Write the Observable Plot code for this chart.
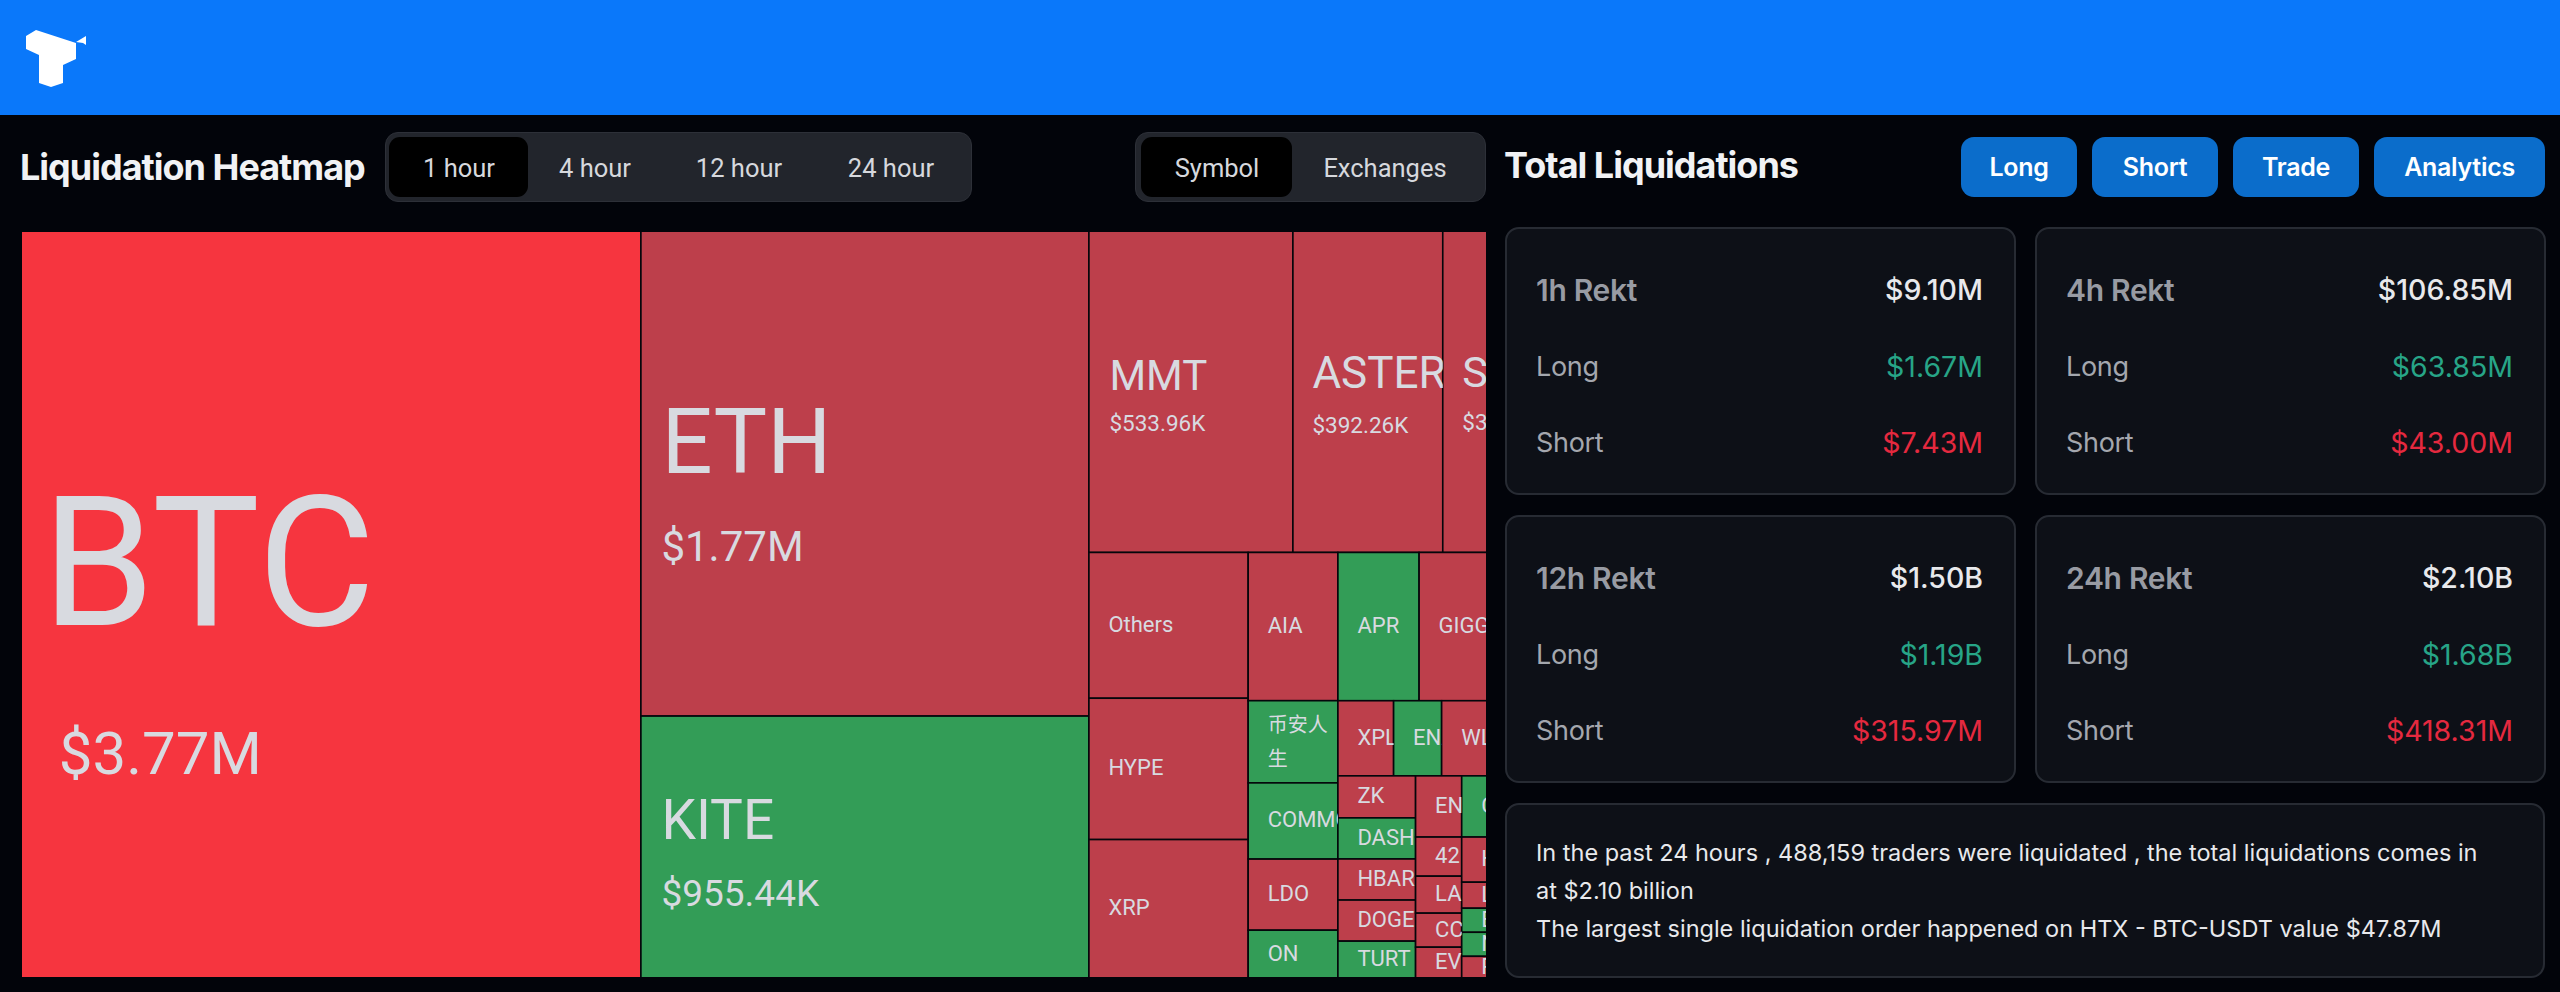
<!DOCTYPE html>
<html>
<head>
<meta charset="utf-8">
<script src="https://cdn.jsdelivr.net/npm/d3@7"></script>
<script src="https://cdn.jsdelivr.net/npm/@observablehq/plot@0.6"></script>
<style>
  html, body { margin: 0; padding: 0; width: 2560px; height: 992px; overflow: hidden; background: #02040a; }
  body { font-family: "Inter", "Noto Sans", sans-serif; color: #e8e9ec; position: relative; }
  .abs { position: absolute; }
  #top { left: 0; top: 0; width: 2560px; height: 115px; background: #0a78fa; }
  #logo { left: 0; top: 0; }
  .title { font-weight: 700; font-size: 36px; color: #f1f2f5; letter-spacing: -1px; white-space: nowrap; line-height: 40px; }
  .tabs { background: #22252c; border: 1px solid #2d3038; border-radius: 13px; box-sizing: border-box; top: 132px; height: 70px; }
  .active { background: #000; border-radius: 11px; top: 137px; height: 60px; }
  .tab { font-family: "Roboto", sans-serif; font-size: 25.5px; color: #d6d8dd; top: 148px; line-height: 40px; transform: translateX(-50%); white-space: nowrap; }
  .btn { background: #0b6dcb; border-radius: 13px; top: 137px; height: 60px; color: #fff; font-weight: 600; font-size: 25px; line-height: 60px; text-align: center; letter-spacing: -0.3px; }
  .card { background: #0d1017; border: 2px solid #272b33; border-radius: 14px; box-sizing: border-box; }
  .lab, .val { font-size: 27px; line-height: 40px; white-space: nowrap; letter-spacing: -0.3px; }
  .lab { color: #a4a7ae; }
  .lab.head { font-weight: 600; font-size: 30px; color: #989ba3; }
  .val { color: #e8e9ec; font-weight: 500; font-size: 28.5px; letter-spacing: 0; transform: translateX(-100%); }
  .val.long { color: #27a587; font-weight: 400; }
  .val.short { color: #e5293f; font-weight: 400; }
  .note { left: 1536px; font-size: 23.5px; color: #e8e9ec; line-height: 38px; white-space: nowrap; }
</style>
</head>
<body>
<script>
// ---------- data ($K; clipped cells are estimates) ----------
const symbols = ["BTC","ETH","KITE","MMT","ASTER","S",
  "Others","HYPE","XRP",
  "AIA","币安人\n生","COMMON","LDO","ON",
  "APR","GIGGLE","XPL","ENA","WLFI",
  "ZK","DASH","HBAR","DOGE","TURT",
  "ENSO","42","LA","CC","EV",
  "C","H","L","B","N","P"];
const liquidated = [3770,1770,955.44,533.96,392.26,310,
  189.2,183.4,179.4,
  108.4,60.1,55.7,52.0,34.8,
  98.1,171.7,34.1,29.4,73.2,
  26.6,26.0,26.0,26.0,23.2,
  23.0,14.7,13.9,12.8,11.5,
  49.6,36.6,21.1,19.5,19.5,17.4];
const sides = ["peak","short","long","short","short","short",
  "short","short","short",
  "short","long","long","short","long",
  "long","short","short","long","short",
  "short","long","short","short","long",
  "short","short","short","short","short",
  "long","short","short","long","long","short"];
// how the treemap nests the symbols (alternating columns / rows)
const nesting = ["BTC", ["ETH","KITE"], [
  ["MMT","ASTER","S"],
  [ ["Others","HYPE","XRP"],
    ["AIA","币安人\n生","COMMON","LDO","ON"],
    [ ["APR","GIGGLE"],
      ["XPL","ENA","WLFI"],
      [ ["ZK","DASH","HBAR","DOGE","TURT"],
        ["ENSO","42","LA","CC","EV"],
        ["C","H","L","B","N","P"] ] ] ] ]];
const periods = ["1 hour","4 hour","12 hour","24 hour"];
const views = ["Symbol","Exchanges"];
const actions = ["Long","Short","Trade","Analytics"];
const rektLabels = ["1h Rekt","4h Rekt","12h Rekt","24h Rekt"];
const rektTotals = ["$9.10M","$106.85M","$1.50B","$2.10B"];
const rektLongs  = ["$1.67M","$63.85M","$1.19B","$1.68B"];
const rektShorts = ["$7.43M","$43.00M","$315.97M","$418.31M"];
const noteLines = ["In the past 24 hours , 488,159 traders were liquidated , the total liquidations comes in",
  "at $2.10 billion",
  "The largest single liquidation order happened on HTX - BTC-USDT value $47.87M"];

// ---------- page chrome ----------
function add(cls, css, text) {
  const e = document.createElement("div");
  e.className = "abs " + cls;
  Object.assign(e.style, css);
  if (text != null) e.textContent = text;
  document.body.append(e);
  return e;
}
add("", {}).id = "top";
document.body.insertAdjacentHTML("beforeend",
  `<svg id="logo" class="abs" width="100" height="100"><path fill="#fff" d="M36 30 26 36V49L39 55V83L51 87 63 83V65L76 59V43Z"/><path fill="#fff" d="M86 36 76 42 83 43 86 45Z"/></svg>`);
add("title", {left:"20px", top:"147px"}, "Liquidation Heatmap");
add("tabs", {left:"385px", width:"587px"});
add("active", {left:"389px", width:"139px"});
[459,595,739,891].forEach((x,i) => add("tab", {left:x+"px"}, periods[i]));
add("tabs", {left:"1135px", width:"351px"});
add("active", {left:"1141px", width:"151px"});
[1217,1385].forEach((x,i) => add("tab", {left:x+"px"}, views[i]));

add("title", {left:"1504px", top:"145px"}, "Total Liquidations");
[[1961,116],[2092,126],[2233,126],[2374,171]].forEach(([x,w],i) =>
  add("btn", {left:x+"px", width:w+"px"}, actions[i]));

const cardX = [1505,2035,1505,2035], cardY = [227,227,515,515];
rektLabels.forEach((lab,i) => {
  const x = cardX[i], y = cardY[i];
  add("card", {left:x+"px", top:y+"px", width:"511px", height:"268px"});
  const rows = [[lab,"head",rektTotals[i],""],["Long","",rektLongs[i],"long"],["Short","",rektShorts[i],"short"]];
  [63,140,216].forEach((dy,r) => {
    add("lab " + rows[r][1], {left:(x+31)+"px", top:(y+dy-20)+"px"}, rows[r][0]);
    add("val " + rows[r][3], {left:(x+478)+"px", top:(y+dy-20)+"px"}, rows[r][2]);
  });
});
add("card", {left:"1505px", top:"803px", width:"1040px", height:"175px"});
noteLines.forEach((t,i) => add("note", {top:(834+i*38)+"px"}, t));

// ---------- treemap ----------
const frameW = 1464, frameH = 745, fullW = 1540, edge = 0.8;
const valueOf = new Map(symbols.map((s,i) => [s, liquidated[i]]));
const sideOf = new Map(symbols.map((s,i) => [s, sides[i]]));
const root = d3.treemap().tile(d3.treemapSliceDice).size([fullW, frameH]).round(false)(
  d3.hierarchy(nesting, d => Array.isArray(d) ? d : null)
    .sum(d => Array.isArray(d) ? 0 : valueOf.get(d)));
const cells = root.leaves().map(n => ({
  name: n.data, value: valueOf.get(n.data), side: sideOf.get(n.data),
  x0: n.x0, x1: n.x1, y0: n.y0, y1: n.y1
}));

const money = v => v >= 1000 ? `$${(v/1000).toFixed(2)}M` : `$${v.toFixed(2)}K`;
const labelFont = `"Roboto", "Noto Sans CJK SC", sans-serif`;
// label sizes per large cell (font size, baseline offset from cell centre, left inset)
const bigLabels = {
  BTC:   {fs:181, dy:19.5, dx:20, vfs:60, vdy:169, vdx:37},
  ETH:   {fs:90,  dy:-1.5, dx:20, vfs:42, vdy:87,  vdx:20},
  KITE:  {fs:55,  dy:-8,   dx:20, vfs:37, vdy:59,  vdx:20},
  MMT:   {fs:42,  dy:-2,   dx:20, vfs:22.5, vdy:39,  vdx:20},
  ASTER: {fs:44,  dy:-4,   dx:19, vfs:22.5, vdy:41,  vdx:19},
  S:     {fs:43,  dy:-5,   dx:19, vfs:22.5, vdy:38,  vdx:19}
};
const small = {fs:22, dy:6, dx:19};
let clipId = 0;
const clippedTo = c => (index, scales, values, dims, ctx, next) => {
  const g = next(index, scales, values, dims, ctx);
  const NS = "http://www.w3.org/2000/svg";
  const wrap = document.createElementNS(NS, "g");
  const clip = document.createElementNS(NS, "clipPath");
  const r = document.createElementNS(NS, "rect");
  const id = "cell-clip-" + (clipId++);
  clip.id = id;
  r.setAttribute("x", scales.x(c.x0));
  r.setAttribute("y", scales.y(c.y0));
  r.setAttribute("width", scales.x(c.x1) - scales.x(c.x0));
  r.setAttribute("height", scales.y(c.y1) - scales.y(c.y0));
  clip.append(r);
  wrap.append(clip, g);
  wrap.setAttribute("clip-path", `url(#${id})`);
  return wrap;
};
const labelMarks = cells.flatMap(c => {
  const s = bigLabels[c.name] || small;
  const wrapped = c.name.includes("\n");
  const base = {
    x: d => d.x0, y: d => (d.y0 + d.y1) / 2,
    textAnchor: "start", lineAnchor: "bottom",
    fill: "#d8dae0", fontFamily: labelFont, clip: "frame", render: clippedTo(c)
  };
  const marks = [Plot.text([c], {...base, text: "name", lineHeight: wrapped ? 1.7 : 1,
    fontSize: wrapped ? 20 : s.fs, dx: s.dx, dy: wrapped ? 23.5 : s.dy})];
  if (s.vfs) marks.push(Plot.text([c], {...base, text: d => money(d.value), fontSize: s.vfs, dx: s.vdx, dy: s.vdy}));
  return marks;
});

const chart = Plot.plot({
  width: frameW, height: frameH, margin: 0,
  style: {background: "transparent", display: "block"},
  x: {domain: [edge, frameW + edge], axis: null},
  y: {domain: [edge, frameH - edge], reverse: true, axis: null},
  color: {domain: ["peak","short","long"], range: ["#f6353f","#bd3f4b","#339d57"]},
  marks: [
    Plot.rect(cells, {x1: "x0", x2: "x1", y1: "y0", y2: "y1", fill: "side", stroke: "#04060b", strokeWidth: 1.6, clip: "frame"}),
    ...labelMarks
  ]
});
const holder = add("", {left:"22px", top:"232px", width:frameW+"px", height:frameH+"px"});
holder.append(chart);
</script>
</body>
</html>
